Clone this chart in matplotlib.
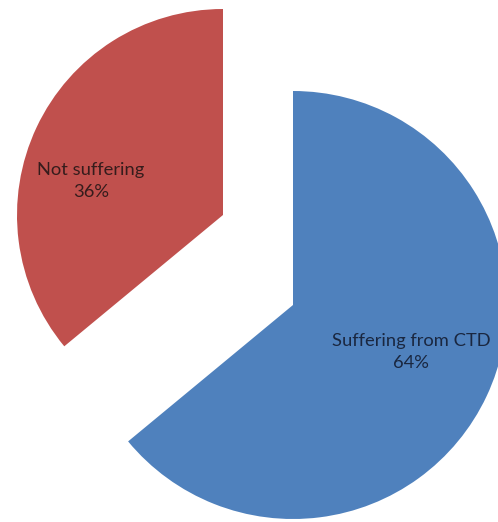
import matplotlib.pyplot as plt

labels = ["Suffering from CTD", "Not suffering"]
shares = [64, 36]
colors = ["#4F81BD", "#C0504D"]
text_colors = ["#1a2740", "#351c1c"]

# wedge geometry in pixel units (y up)
centers = [(293, 217), (223, 307)]
radii = [214, 206]
label_pos = [(411, 170), (91, 341)]


def draw():
    fig = plt.figure(figsize=(4.98, 5.22), dpi=100)
    ax = fig.add_axes([0, 0, 1, 1])
    wedges, _ = ax.pie(shares, startangle=90, counterclock=False, colors=colors,
                       radius=1, wedgeprops=dict(linewidth=0))
    for w, c, r in zip(wedges, centers, radii):
        w.set_center(c)
        w.set_radius(r)
    for lab, val, pos, tc in zip(labels, shares, label_pos, text_colors):
        ax.text(pos[0], pos[1], f"{lab}\n{val}%", ha="center", va="center",
                fontsize=13.2, family="Lato", color=tc, linespacing=1.5)
    ax.set_xlim(0, 498)
    ax.set_ylim(0, 522)
    ax.set_aspect("equal")
    ax.axis("off")
    fig.savefig("out.png", dpi=100)


if __name__ == "__main__":
    draw()
